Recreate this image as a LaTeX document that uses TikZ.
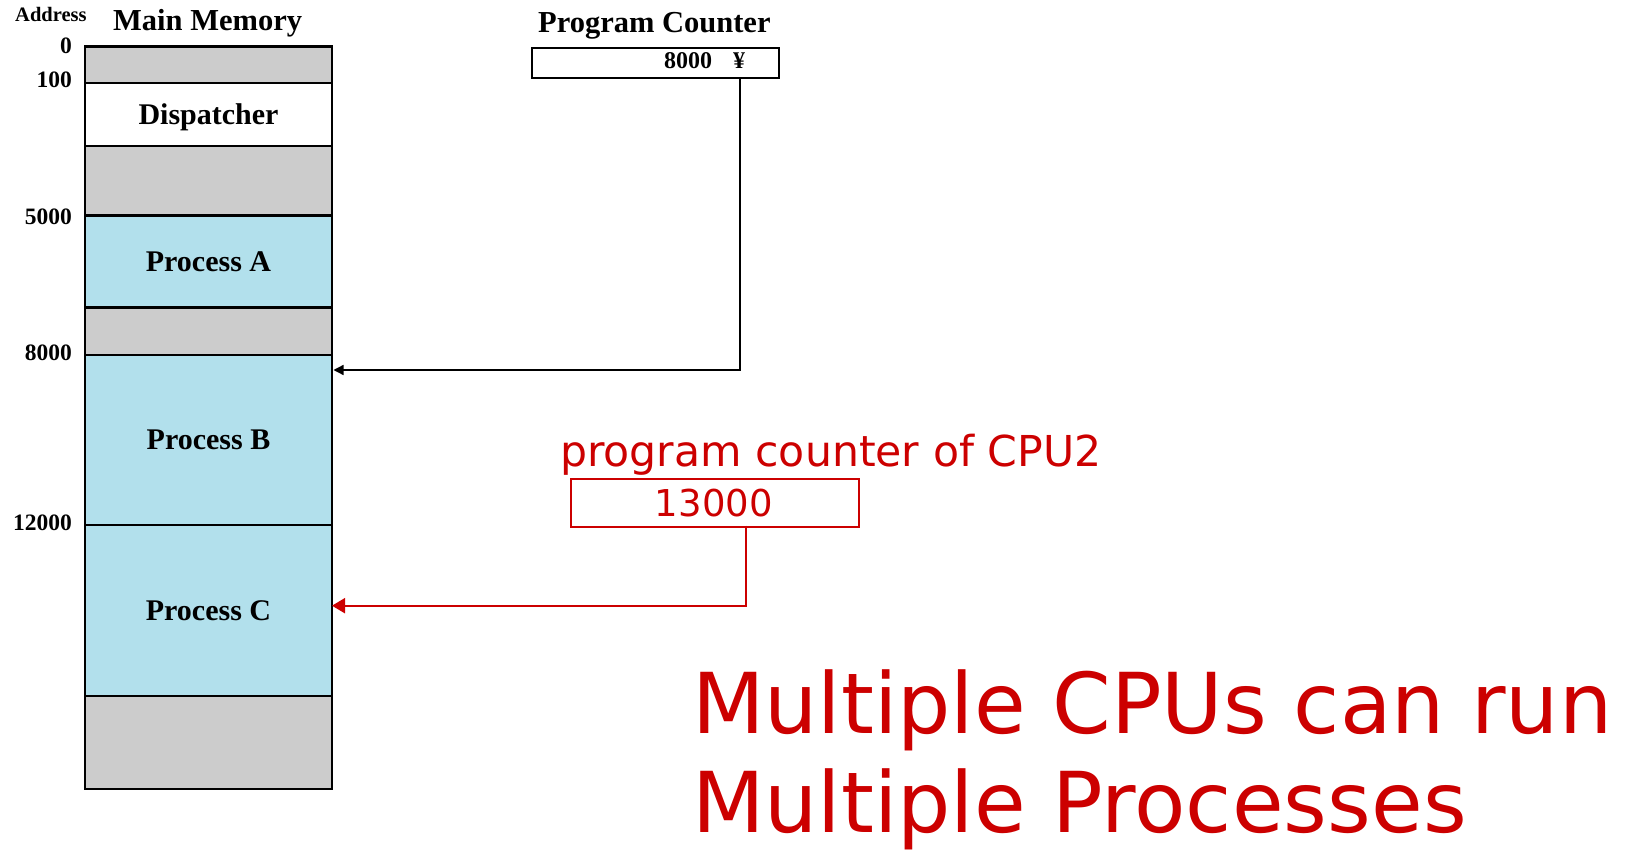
\documentclass[tikz,border=0pt]{standalone}
\usepackage{fontspec}
\setmainfont{Liberation Serif}
\newfontfamily\vfont{DejaVu Sans}
\usetikzlibrary{arrows.meta}
\definecolor{memgray}{HTML}{CCCCCC}
\definecolor{procblue}{HTML}{B2E0EC}
\definecolor{pcred}{HTML}{CC0000}
\tikzset{
  cell/.style={draw=black, line width=2.7pt, minimum width=247pt, inner sep=0pt,
               outer sep=0pt, anchor=north west, text depth=0pt,
               font=\fontsize{30}{34}\selectfont\bfseries},
  gap/.style={cell, fill=memgray},
  proc/.style={cell, fill=procblue},
  addr/.style={anchor=base east, inner sep=0pt, font=\fontsize{23.5}{26}\selectfont\bfseries},
  heading/.style={anchor=base west, inner sep=0pt, font=\fontsize{30.5}{34}\selectfont\bfseries},
  redtext/.style={text=pcred, inner sep=0pt, anchor=base west},
  ptr/.style={line width=1.3pt, -{Triangle[length=10pt,width=10pt]}},
  redptr/.style={draw=pcred, line width=2pt, -{Triangle[length=13pt,width=15pt]}},
}
\begin{document}
\begin{tikzpicture}[x=1pt, y=-1pt]
\useasboundingbox (0,0) rectangle (1626,850);

% headings
\node[anchor=base west, inner sep=0pt, font=\fontsize{20.5}{24}\selectfont\bfseries] (addrhead) at (15,21.7) {Address};
\node[heading] (memhead) at (113,30.7) {Main Memory};
\node[heading] (pchead) at (538,32.5) {Program Counter};

% main memory segments
\node[gap,  minimum height=36.3pt] (s0)    at (85,46.7)  {};
\node[cell, fill=white, minimum height=63pt] (disp) at (85,83) {Dispatcher};
\node[gap,  minimum height=69.7pt] (s1)    at (85,146)   {};
\node[proc, minimum height=92pt]   (procA) at (85,215.7) {Process A};
\node[gap,  minimum height=47.3pt] (s2)    at (85,307.7) {};
\node[proc, minimum height=170pt]  (procB) at (85,355)   {Process B};
\node[proc, minimum height=171pt]  (procC) at (85,525)   {Process C};
\node[gap,  minimum height=93pt]   (s3)    at (85,696)   {};

% addresses
\node[addr] (a0)     at (72,53.3)  {0};
\node[addr] (a100)   at (72,87.3)  {100};
\node[addr] (a5000)  at (72,224.3) {5000};
\node[addr] (a8000)  at (72,361)   {8000};
\node[addr] (a12000) at (72,530.7) {12000};

% program counter of CPU 1
\node[draw=black, line width=2pt, minimum width=246.7pt, minimum height=30.6pt,
      inner sep=0pt, anchor=north west] (pc) at (531,46.7) {};
\node[anchor=base west, inner sep=0pt, font=\fontsize{24}{26}\selectfont\bfseries] (pcval) at (664,68.3) {8000};
\node[anchor=base west, inner sep=0pt, font=\fontsize{24}{26}\selectfont\bfseries] (pcmark) at (733,68.3) {¥};
\coordinate (pcout) at (740,77.3);
\coordinate (tipB) at (333.5,370);
\draw[ptr] (pcout) |- (tipB);

% program counter of CPU 2
\node[redtext, font=\vfont\fontsize{42.6}{46}\selectfont] (pc2head) at (560,466) {program counter of CPU2};
\node[draw=pcred, line width=2pt, minimum width=287.6pt, minimum height=48pt,
      inner sep=0pt, anchor=north west] (pc2) at (570,477.7) {};
\node[text=pcred, inner sep=0pt, anchor=base, font=\vfont\fontsize{37}{40}\selectfont] (pc2val) at (713.8,516.7) {13000};
\coordinate (pc2out) at (746,525.7);
\coordinate (tipC) at (332,605.7);
\draw[redptr] (pc2out) |- (tipC);

% caption
\node[redtext, font=\vfont\fontsize{84}{100}\selectfont] (cap1) at (692,733.3) {Multiple CPUs can run};
\node[redtext, font=\vfont\fontsize{84}{100}\selectfont] (cap2) at (692,832) {Multiple Processes};
\end{tikzpicture}
\end{document}
